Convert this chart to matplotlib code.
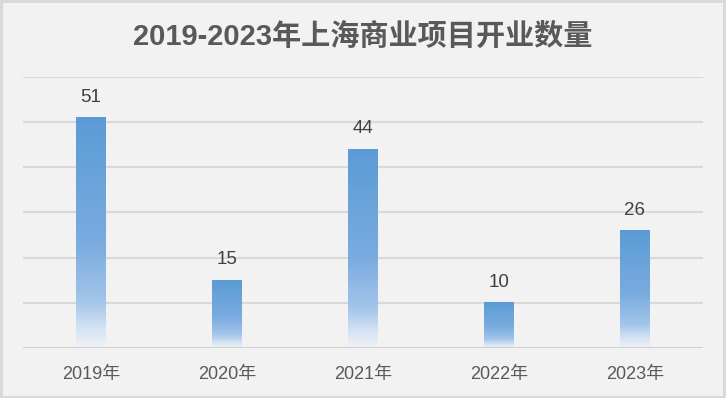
import matplotlib
matplotlib.use("Agg")
import matplotlib.pyplot as plt
import numpy as np
from matplotlib.colors import LinearSegmentedColormap
from matplotlib.patches import Rectangle

categories = ["2019年", "2020年", "2021年", "2022年", "2023年"]
values = [51, 15, 44, 10, 26]
title = "2019-2023年上海商业项目开业数量"

plt.rcParams['font.family'] = ['Liberation Sans', 'Noto Sans CJK SC', 'DejaVu Sans']

fig = plt.figure(figsize=(7.26, 3.98), dpi=100, facecolor='#f2f2f2')
ax = fig.add_axes([0.0317, 0.126, 0.9365, 0.681])
ax.set_facecolor('#f2f2f2')

# figure border
fig.patches.append(Rectangle((0.0015, 0.002), 0.996, 0.995, transform=fig.transFigure,
                             fill=False, edgecolor='#d9d9d9', linewidth=2.2))

cmap = LinearSegmentedColormap.from_list(
    'barg', [(0.0, '#5b9bd5'), (0.55, '#7aace0'), (0.8, '#a3c5ea'), (0.92, '#d6e4f4'), (1.0, '#f0f2f6')])
grad = np.linspace(0, 1, 256).reshape(-1, 1)

x = np.arange(len(categories))
bw = 0.22
ax.set_xlim(-0.5, len(categories) - 0.5)
ax.set_ylim(0, 60)

for yv in range(10, 61, 10):
    ax.axhline(yv, color='#d9d9d9', linewidth=1.5, zorder=0)
ax.axhline(0, color='#d0d0d0', linewidth=2.2, zorder=3)

for xi, v in zip(x, values):
    ax.imshow(grad, cmap=cmap, aspect='auto', extent=(xi - bw / 2, xi + bw / 2, 0, v),
              origin='upper', zorder=2, interpolation='bilinear')
    ax.text(xi, v + 2.6, str(v), ha='center', va='bottom', fontsize=13.5, color='#404040')

ax.set_xlim(-0.5, len(categories) - 0.5)
ax.set_ylim(0, 60)
ax.set_xticks(x)
ax.set_xticklabels(categories, fontsize=13, color='#595959')
ax.tick_params(axis='x', length=0, pad=13)
ax.set_yticks([])
for s in ax.spines.values():
    s.set_visible(False)

fig.text(0.5, 0.907, title, ha='center', va='center', fontsize=21, fontweight='bold', color='#595959')

fig.savefig('out.png', dpi=100, facecolor='#f2f2f2')
